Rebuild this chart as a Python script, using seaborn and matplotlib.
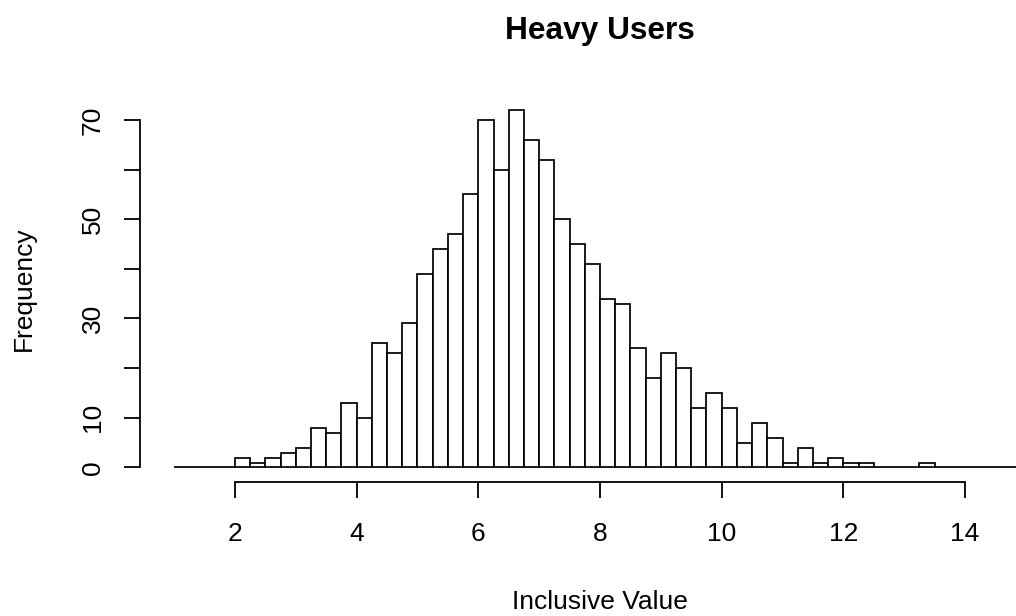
import numpy as np
import pandas as pd
import matplotlib
matplotlib.use("Agg")
import matplotlib.pyplot as plt
import seaborn as sns

# histogram counts, bins of width 0.25 starting at 1.0
bin_start = 1.0
bin_width = 0.25
counts = [0, 0, 0, 0,
          2, 1, 2, 3,
          4, 8, 7, 13,
          10, 25, 23, 29,
          39, 44, 47, 55,
          70, 60, 72, 66,
          62, 50, 45, 41,
          34, 33, 24, 18,
          23, 20, 12, 15,
          12, 5, 9, 6,
          1, 4, 1, 2,
          1, 1, 0, 0,
          0, 1, 0, 0,
          0, 0, 0, 0]
x_ticks = [2, 4, 6, 8, 10, 12, 14]
y_ticks = [0, 10, 20, 30, 40, 50, 60, 70]
y_ticklabels = ["0", "10", "", "30", "", "50", "", "70"]

edges = bin_start + bin_width * np.arange(len(counts) + 1)
df = pd.DataFrame({"value": (edges[:-1] + edges[1:]) / 2, "n": counts})

sns.set_style("white")
plt.rcParams["font.family"] = ["Liberation Sans", "DejaVu Sans"]
plt.rcParams["text.color"] = "black"

W, H = 1016, 616
fig = plt.figure(figsize=(W / 100, H / 100), dpi=100)
# plot region in pixels (extends past the right edge, like the cropped original)
left, right, top, bottom = 140, 1060, 95.6, 481.8
ax = fig.add_axes([left / W, 1 - bottom / H, (right - left) / W, (bottom - top) / H])

sns.histplot(data=df, x="value", weights="n", bins=edges.tolist(), color="white",
             edgecolor="black", linewidth=1.25, alpha=1, ax=ax)

ax.set_xlim(0.44, 15.56)
ax.set_ylim(-2.88, 74.88)
ax.set_xlabel("")
ax.set_ylabel("")

for s in ["top", "right"]:
    ax.spines[s].set_visible(False)
ax.spines["left"].set_bounds(0, 70)
ax.spines["bottom"].set_bounds(2, 14)
for s in ["left", "bottom"]:
    ax.spines[s].set_color("black")
    ax.spines[s].set_linewidth(1.3)

ax.set_xticks(x_ticks)
ax.set_xticklabels([str(t) for t in x_ticks])
ax.set_yticks(y_ticks)
ax.set_yticklabels(y_ticklabels, rotation=90, va="center")
ax.tick_params(axis="both", direction="out", length=11.5, width=1.3, color="black",
               labelsize=19, labelcolor="black", bottom=True, left=True)
ax.tick_params(axis="x", pad=17.5)
ax.tick_params(axis="y", pad=14)

fig.text(600 / W, 1 - 39.3 / H, "Heavy Users", ha="center", va="baseline",
         fontsize=22.8, fontweight="bold")
fig.text(600 / W, 1 - 609 / H, "Inclusive Value", ha="center", va="baseline",
         fontsize=19)
fig.text(30.7 / W, 1 - 288.7 / H, "Frequency", ha="center", va="baseline",
         rotation=90, rotation_mode="anchor", fontsize=19)

fig.savefig("out.png", dpi=100)
